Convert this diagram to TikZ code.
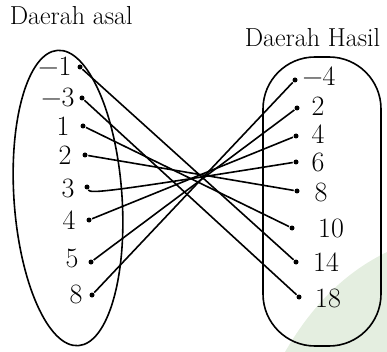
\documentclass[tikz,border=0pt]{standalone}
\usepackage{tikz}
\usetikzlibrary{calc}
\definecolor{wmgreen}{RGB}{228,238,224}
\tikzset{dot/.style={circle,fill,inner sep=0pt,minimum size=5pt},
  num/.style={font=\fontsize{28}{30}\selectfont,inner sep=0pt},
  title/.style={font=\fontsize{26}{30}\selectfont,inner sep=0pt}}

\begin{document}
\begin{tikzpicture}[x=1pt,y=-1pt,line width=1.6pt]
      \useasboundingbox (0,0) rectangle (387,352);
      \fill[wmgreen] (285,352) .. controls (315,300) and (350,270) .. (387,252)
        -- (387,352) -- cycle;

      \node[title,anchor=base west] (T1) at (9,25) {Daerah asal};
      \node[title,anchor=base west] (T2) at (244,47) {Daerah Hasil};

      % the two sets
      \draw[rotate around={4:(68,198)}] (68,198) ellipse (54 and 148);
      \draw[rounded corners=52pt] (263,57) rectangle (381,346);

      \node[num] (L1) at (55,66) {−1};
      \node[num] (L2) at (58,97) {−3};
      \node[num] (L3) at (63,126) {1};
      \node[num] (L4) at (65,155) {2};
      \node[num] (L5) at (68,188) {3};
      \node[num] (L6) at (69,220) {4};
      \node[num] (L7) at (72,258) {5};
      \node[num] (L8) at (76,294) {8};

      \node[num] (R1) at (319,76) {−4};
      \node[num] (R2) at (318,106) {2};
      \node[num] (R3) at (318,134) {4};
      \node[num] (R4) at (318,162) {6};
      \node[num] (R5) at (321,192) {8};
      \node[num] (R6) at (331,228) {10};
      \node[num] (R7) at (326,262) {14};
      \node[num] (R8) at (328,298) {18};

      \node[dot] (A1) at (80,67) {};
      \node[dot] (A2) at (82,98) {};
      \node[dot] (A3) at (83,126) {};
      \node[dot] (A4) at (85,155) {};
      \node[dot] (A5) at (87,187) {};
      \node[dot] (A6) at (89,220) {};
      \node[dot] (A7) at (91,262) {};
      \node[dot] (A8) at (92,295) {};

      \node[dot] (B1) at (295,80) {};
      \node[dot] (B2) at (297,108) {};
      \node[dot] (B3) at (296,136) {};
      \node[dot] (B4) at (296,162) {};
      \node[dot] (B5) at (297,191) {};
      \node[dot] (B6) at (292,228) {};
      \node[dot] (B7) at (296,262) {};
      \node[dot] (B8) at (299,297) {};

      \draw (A1) -- (B7);
      \draw (A2) -- (B8);
      \draw (A3) -- (B6);
      \draw (A4) -- (B5);
      \draw (A5) .. controls (90,194) and (115,191) .. (B4);
      \draw (A6) -- (B3);
      \draw (A7) -- (B2);
      \draw (A8) -- (B1);
    \end{tikzpicture}
\end{document}
